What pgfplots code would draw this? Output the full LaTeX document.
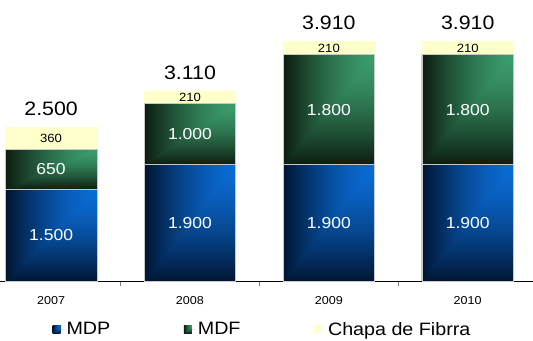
\documentclass[border=0pt]{standalone}
\usepackage{pgfplots}
\usepackage{pgfplotstable}
\pgfplotsset{compat=1.18}
\usepackage{fontspec}
\setmainfont{Liberation Sans}[FakeStretch=1.1]
\definecolor{mdpmid}{HTML}{093A75}
\definecolor{mdfmid}{HTML}{1E5434}
\definecolor{chapa}{HTML}{FFFFCC}
\definecolor{segline}{HTML}{C8C8C8}
% corner gradients: brightest at the top-right corner, darkening towards left and bottom
% (the path is fitted to the central 50bp x 50bp part of the shading)
\pgfdeclarefunctionalshading{mdpcorner}{\pgfpoint{-50bp}{-50bp}}{\pgfpoint{50bp}{50bp}}{}{
  25 exch sub 50 div exch 25 exch sub 50 div
  2 copy lt {exch} if pop
  dup 0 lt {pop 0} if dup 1 gt {pop 1} if
  dup sqrt mul
  dup 0.04 mul 0.04 exch sub exch
  dup 0.34 mul 0.42 exch sub exch
  0.64 mul 0.83 exch sub
}
\pgfdeclarefunctionalshading{mdfcorner}{\pgfpoint{-50bp}{-50bp}}{\pgfpoint{50bp}{50bp}}{}{
  25 exch sub 50 div exch 25 exch sub 50 div
  2 copy lt {exch} if pop
  dup 0 lt {pop 0} if dup 1 gt {pop 1} if
  dup sqrt mul
  dup 0.185 mul 0.23 exch sub exch
  dup 0.50 mul 0.61 exch sub exch
  0.36 mul 0.42 exch sub
}
\pgfplotstableread{
x mdp mdf chapa total
0 1500 650 360 2500
1 1900 1000 210 3110
2 1900 1800 210 3910
3 1900 1800 210 3910
}\data
\pgfplotsset{
  sqlegend/.style={legend image code/.code={\path (0pt,0pt) -- (12pt,0pt); \path[#1] (0pt,-4pt) rectangle (8pt,4pt);}},
  segnode/.style={nodes near coords, point meta=rawy,
    visualization depends on=rawy \as \rawy,
    visualization depends on=\thisrow{total} \as \total,
    every node near coord/.append style={anchor=center, inner sep=0pt,
      minimum width=91.8bp, minimum height={\rawy*0.061505bp}, #1}},
}
\begin{document}
\begin{tikzpicture}
\begin{axis}[
  scale only axis, width=533bp, height=282bp,
  ybar stacked, bar width=0.66,
  xmin=-0.365, xmax=3.467, ymin=0, ymax=4585,
  axis x line*=bottom, axis y line*=left,
  y axis line style={draw=none}, ytick=\empty,
  x axis line style={-, black, line width=0.8pt},
  xtick={0,1,2,3}, xticklabels={2007,2008,2009,2010},
  major tick length=0pt,
  minor xtick={0.5,1.5,2.5}, minor tick length=4pt, xtick align=outside,
  minor x tick style={gray, line width=0.8pt},
  xticklabel style={font=\fontsize{11.5}{14}\selectfont, yshift=-11pt},
  clip=false,
  /pgf/number format/assume math mode=true,
  /pgf/number format/1000 sep={.},
  legend style={at={(0.4925,-0.170)}, anchor=center, draw=none, fill=none,
    legend columns=3, font=\fontsize{18}{21}\selectfont,
    /tikz/every even column/.append style={column sep=72pt}},
  legend cell align=left,
]
\addplot[fill=mdpmid, draw=none,
  sqlegend={shade, shading=mdpcorner, shading angle=0},
  segnode={shade, shading=mdpcorner, shading angle=0,
    draw=segline, line width=0.8pt, text=white, font=\fontsize{16}{18}\selectfont}]
  table[x=x, y=mdp]{\data};
\addplot[fill=mdfmid, draw=none,
  sqlegend={shade, shading=mdfcorner, shading angle=0},
  segnode={shade, shading=mdfcorner, shading angle=0,
    draw=segline, line width=0.8pt, text=white, font=\fontsize{16}{18}\selectfont}]
  table[x=x, y=mdf]{\data};
\addplot[fill=chapa, draw=none,
  sqlegend={fill=chapa},
  segnode={fill=chapa, text=black, font=\fontsize{12}{14}\selectfont,
    label={[font=\fontsize{19.5}{22}\selectfont, text=black, inner sep=2pt, yshift=9pt]above:{\pgfmathprintnumber{\total}}}}]
  table[x=x, y=chapa]{\data};
\legend{MDP, MDF, Chapa de Fibrra}
\end{axis}
\end{tikzpicture}
\end{document}
